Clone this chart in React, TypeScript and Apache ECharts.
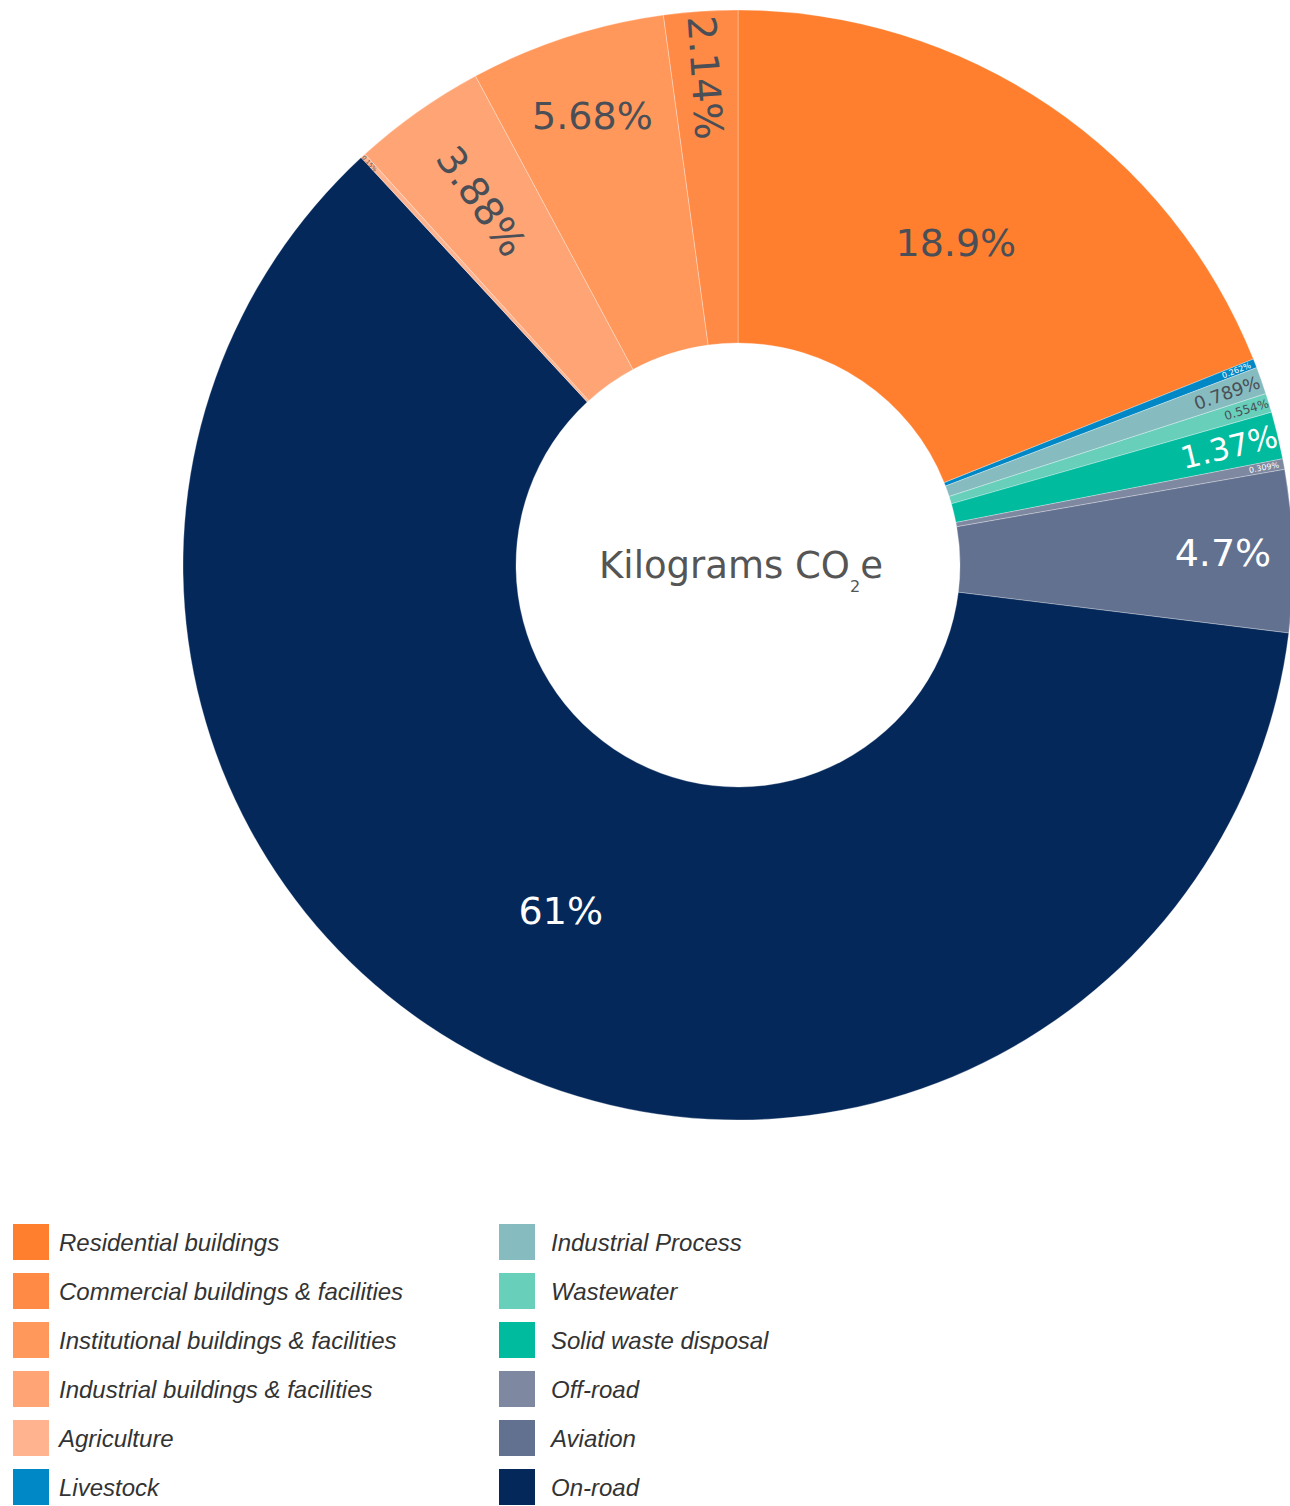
import React, { useEffect, useRef } from "react";
import * as echarts from "echarts";

// Slices listed clockwise from 12 o'clock
const categories = [
  "Residential buildings",
  "Livestock",
  "Industrial Process",
  "Wastewater",
  "Solid waste disposal",
  "Off-road",
  "Aviation",
  "On-road",
  "Agriculture",
  "Industrial buildings & facilities",
  "Institutional buildings & facilities",
  "Commercial buildings & facilities",
];
const shares = [18.9, 0.262, 0.789, 0.554, 1.37, 0.309, 4.7, 61, 0.15, 3.88, 5.68, 2.14];

const legendLeft = [
  "Residential buildings",
  "Commercial buildings & facilities",
  "Institutional buildings & facilities",
  "Industrial buildings & facilities",
  "Agriculture",
  "Livestock",
];
const legendRight = [
  "Industrial Process",
  "Wastewater",
  "Solid waste disposal",
  "Off-road",
  "Aviation",
  "On-road",
];

const colorMap: Record<string, string> = {
  "Residential buildings": "#ff7f2e",
  "Commercial buildings & facilities": "#ff8a45",
  "Institutional buildings & facilities": "#ff985a",
  "Industrial buildings & facilities": "#ffa575",
  Agriculture: "#ffb48f",
  Livestock: "#0088c6",
  "Industrial Process": "#86bcc0",
  Wastewater: "#68cfbb",
  "Solid waste disposal": "#00bb9e",
  "Off-road": "#7e88a0",
  Aviation: "#637190",
  "On-road": "#05285a",
};

// label styling: [fontSize, color, rotate, radial fraction in ring]
const labelStyle: Record<string, [number, string, any, number]> = {
  "Residential buildings": [38, "#4a4f57", 0, 0.5],
  Livestock: [8, "#ffffff", "radial", 0.94],
  "Industrial Process": [18, "#4a4f57", "radial", 0.89],
  Wastewater: [12, "#4a4f57", "radial", 0.93],
  "Solid waste disposal": [31, "#ffffff", "radial", 0.85],
  "Off-road": [8, "#ffffff", "radial", 0.94],
  Aviation: [38, "#ffffff", 0, 0.79],
  "On-road": [38, "#ffffff", 0, 0.5],
  Agriculture: [6, "#4a4f57", "radial", 0.97],
  "Industrial buildings & facilities": [39, "#4a4f57", "radial", 0.67],
  "Institutional buildings & facilities": [38, "#4a4f57", 0, 0.75],
  "Commercial buildings & facilities": [39, "#4a4f57", "radial", 0.8],
};

const CX = 738;
const CY = 565;
const R0 = 222;
const R1 = 555;

export default function App() {
  const ref = useRef<HTMLDivElement>(null);
  useEffect(() => {
    document.body.style.margin = "0";
    const chart = echarts.init(ref.current!, undefined, { renderer: "svg" });
    const total = shares.reduce((a, b) => a + b, 0);
    const starts: number[] = [];
    let acc = 0;
    shares.forEach((v) => {
      starts.push(acc);
      acc += v;
    });

    const textBase = {
      fontFamily: "Liberation Sans, Arial, sans-serif",
      fontStyle: "italic",
      fontSize: 24,
      color: "#333333",
    };
    const legendCommon = {
      orient: "vertical" as const,
      icon: "rect",
      itemWidth: 36,
      itemHeight: 36,
      itemGap: 13,
      padding: 0,
      height: 320,
      itemStyle: { borderWidth: 0 },
      selectedMode: false,
    };

    chart.setOption({
      animation: false,
      legend: [
        {
          ...legendCommon,
          left: 13,
          top: 1224,
          data: legendLeft,
          textStyle: { ...textBase, padding: [0, 0, 0, 5] },
        },
        {
          ...legendCommon,
          left: 499,
          top: 1224,
          data: legendRight,
          textStyle: { ...textBase, padding: [0, 0, 0, 11] },
        },
      ],
      graphic: [
        {
          type: "text",
          x: CX + 3,
          y: CY,
          style: {
            text: "{a|Kilograms CO}{b|2}{a|e}",
            align: "center",
            verticalAlign: "middle",
            rich: {
              a: {
                fontFamily: "DejaVu Sans, Verdana, sans-serif",
                fontSize: 37,
                lineHeight: 58,
                fill: "#555555",
              },
              b: {
                fontFamily: "DejaVu Sans, Verdana, sans-serif",
                fontSize: 16,
                lineHeight: 16,
                verticalAlign: "bottom",
                fill: "#555555",
              },
            },
          },
        },
      ],
      series: [
        {
          type: "pie",
          center: [CX, CY],
          radius: [R0, R1],
          startAngle: 90,
          clockwise: true,
          avoidLabelOverlap: false,
          minShowLabelAngle: 0,
          itemStyle: { borderColor: "rgba(255,255,255,0.3)", borderWidth: 1 },
          label: {
            show: true,
            position: "inside",
            fontFamily: "DejaVu Sans, Verdana, sans-serif",
            formatter: (p: any) => `${p.value}%`,
          },
          labelLine: { show: false },
          emphasis: { disabled: true },
          labelLayout: (params: any) => {
            const i = params.dataIndex;
            const name = categories[i];
            const f = labelStyle[name][3];
            const mid = ((starts[i] + shares[i] / 2) / total) * Math.PI * 2;
            const r = R0 + f * (R1 - R0);
            return { x: CX + r * Math.sin(mid), y: CY - r * Math.cos(mid) };
          },
          data: categories.map((name, i) => ({
            name,
            value: shares[i],
            itemStyle: { color: colorMap[name] },
            label: {
              fontSize: labelStyle[name][0],
              color: labelStyle[name][1],
              rotate: labelStyle[name][2],
            },
          })),
        },
      ],
    });
    return () => chart.dispose();
  }, []);
  return <div ref={ref} style={{ width: 1290, height: 1506 }} />;
}
